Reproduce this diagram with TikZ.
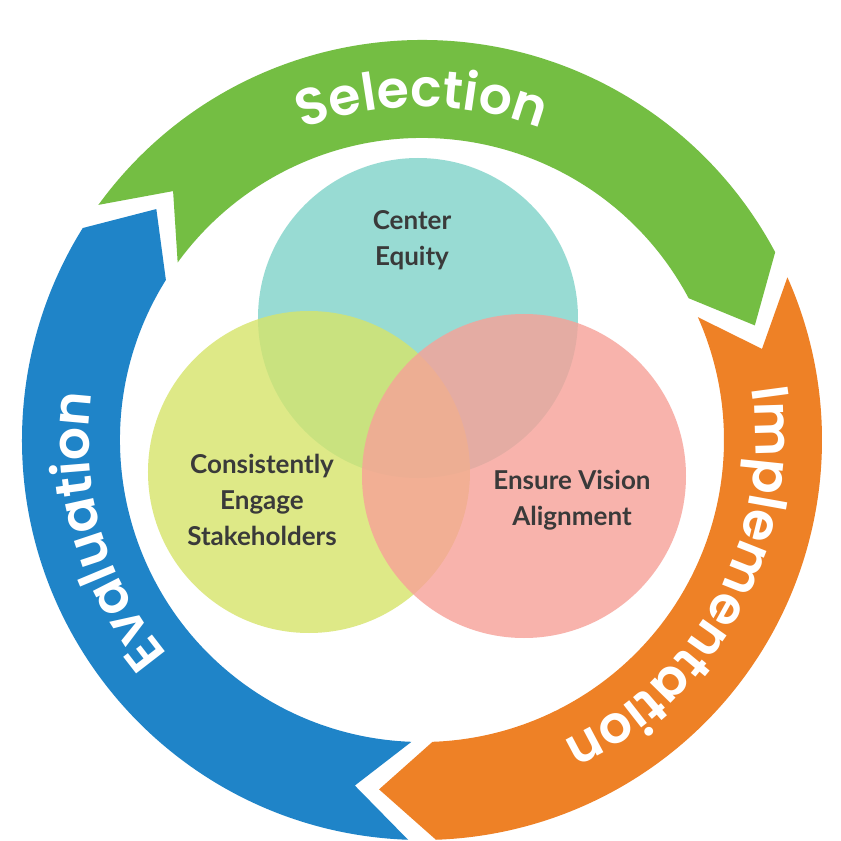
\documentclass[tikz,border=0pt]{standalone}
\usepackage{fontspec}
\setmainfont{Lato}
\newfontfamily\ringfont{Poppins}[UprightFont=* SemiBold]
\usetikzlibrary{decorations.text}
\definecolor{cgreen}{HTML}{74BE43}
\definecolor{corange}{HTML}{EE8126}
\definecolor{cblue}{HTML}{1F84C8}
\definecolor{cteal}{HTML}{7FD3C8}
\definecolor{cyel}{HTML}{D6E46A}
\definecolor{cpink}{HTML}{F7A198}
\definecolor{ctext}{HTML}{3A3A3A}
\newcommand\ringseg[3]{\fill[#3] (#1:400pt) arc[start angle=#1,end angle=#2,radius=400pt] -- ({#2-9}:352pt) -- (#2:302pt) arc[start angle=#2,end angle=#1,radius=302pt] -- ({#1-9}:352pt) -- cycle;}
\newcommand\ringtext[2]{\path[decorate,decoration={text along path,text align=center,text color=white,text={|\ringfont\fontsize{52}{52}\selectfont|#2}}] ({#1+70}:333pt) arc[start angle={#1+70},end angle={#1-70},radius=333pt];}
\tikzset{lbl/.style={font=\bfseries\fontsize{26}{36}\selectfont,text=ctext,align=center},
 venn/.style={fill opacity=0.8}}
\begin{document}
\begin{tikzpicture}
\fill[white] (-422pt,-401pt) rectangle (419pt,440pt);
\useasboundingbox (-422pt,-401pt) rectangle (419pt,440pt);
\ringseg{144}{28}{cgreen}
\ringseg{24}{-88}{corange}
\ringseg{268}{148}{cblue}
\ringtext{90}{Selection}
\ringtext{-28}{Implementation}
\ringtext{196}{Evaluation}
\fill[cteal,venn] (-4pt,122pt) circle[radius=160pt];
\fill[cyel,venn] (-113pt,-32pt) circle[radius=161pt];
\fill[cpink,venn] (102pt,-36pt) circle[radius=162pt];
\node[lbl] (ce) at (-10pt,200pt) {Center\\Equity};
\node[lbl] (cs) at (-160pt,-60pt) {Consistently\\Engage\\Stakeholders};
\node[lbl] (ev) at (150pt,-60pt) {Ensure Vision\\Alignment};
\end{tikzpicture}
\end{document}
